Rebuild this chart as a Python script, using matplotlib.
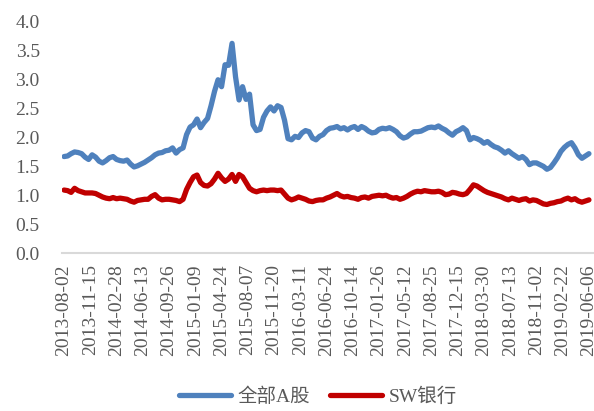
import matplotlib
matplotlib.use("Agg")
import matplotlib.pyplot as plt
import numpy as np

# tick labels (every 15th weekly observation)
tick_labels = [
    "2013-08-02", "2013-11-15", "2014-02-28", "2014-06-13", "2014-09-26",
    "2015-01-09", "2015-04-24", "2015-08-07", "2015-11-20", "2016-03-11",
    "2016-06-24", "2016-10-14", "2017-01-26", "2017-05-12", "2017-08-25",
    "2017-12-15", "2018-03-30", "2018-07-13", "2018-11-02", "2019-02-22",
    "2019-06-06",
]
series_names = ["全部A股", "SW银行"]

# values read every second week (observation index 0, 2, 4, ... 300)
all_a = [
    1.67, 1.68, 1.72, 1.75, 1.74, 1.72, 1.66, 1.62, 1.70, 1.66,
    1.59, 1.56, 1.60, 1.65, 1.67, 1.62, 1.60, 1.59, 1.61, 1.54,
    1.49, 1.51, 1.54, 1.57, 1.61, 1.65, 1.70, 1.73, 1.74, 1.77,
    1.78, 1.82, 1.73, 1.79, 1.82, 2.05, 2.18, 2.22, 2.32, 2.17,
    2.26, 2.33, 2.55, 2.80, 3.00, 2.88, 3.26, 3.25, 3.63, 3.05,
    2.65, 2.88, 2.66, 2.75, 2.22, 2.12, 2.14, 2.35, 2.46, 2.53,
    2.46, 2.55, 2.52, 2.30, 1.98, 1.96, 2.02, 2.00, 2.08, 2.12,
    2.10, 1.99, 1.96, 2.02, 2.05, 2.12, 2.16, 2.17, 2.19, 2.15,
    2.17, 2.13, 2.17, 2.19, 2.14, 2.19, 2.16, 2.11, 2.08, 2.09,
    2.14, 2.16, 2.15, 2.17, 2.14, 2.10, 2.03, 1.99, 2.01, 2.06,
    2.10, 2.10, 2.11, 2.14, 2.17, 2.18, 2.17, 2.20, 2.16, 2.13,
    2.08, 2.04, 2.10, 2.13, 2.17, 2.12, 1.96, 2.00, 1.98, 1.95,
    1.90, 1.93, 1.88, 1.84, 1.82, 1.78, 1.73, 1.77, 1.72, 1.68,
    1.64, 1.67, 1.62, 1.53, 1.56, 1.56, 1.53, 1.50, 1.45, 1.48,
    1.56, 1.65, 1.76, 1.83, 1.88, 1.91, 1.82, 1.70, 1.64, 1.68,
    1.72,
]
sw_bank = [
    1.09, 1.08, 1.05, 1.12, 1.08, 1.06, 1.04, 1.04, 1.04, 1.03,
    1.00, 0.97, 0.95, 0.94, 0.96, 0.94, 0.95, 0.94, 0.93, 0.90,
    0.88, 0.91, 0.92, 0.93, 0.93, 0.98, 1.01, 0.95, 0.92, 0.93,
    0.93, 0.92, 0.91, 0.89, 0.93, 1.10, 1.22, 1.32, 1.35, 1.22,
    1.17, 1.16, 1.20, 1.28, 1.38, 1.30, 1.24, 1.28, 1.36, 1.24,
    1.36, 1.32, 1.22, 1.12, 1.08, 1.06, 1.08, 1.09, 1.08, 1.09,
    1.09, 1.08, 1.09, 1.02, 0.95, 0.92, 0.94, 0.97, 0.95, 0.93,
    0.90, 0.89, 0.91, 0.92, 0.92, 0.95, 0.97, 1.00, 1.03, 0.99,
    0.97, 0.98, 0.96, 0.95, 0.93, 0.96, 0.97, 0.95, 0.98, 0.99,
    1.00, 0.99, 1.00, 0.97, 0.95, 0.96, 0.93, 0.95, 0.98, 1.02,
    1.05, 1.07, 1.06, 1.08, 1.07, 1.06, 1.06, 1.07, 1.05, 1.01,
    1.02, 1.05, 1.04, 1.02, 1.01, 1.03, 1.10, 1.18, 1.16, 1.12,
    1.08, 1.05, 1.03, 1.01, 0.99, 0.97, 0.94, 0.92, 0.95, 0.93,
    0.91, 0.93, 0.94, 0.90, 0.92, 0.91, 0.88, 0.85, 0.84, 0.86,
    0.87, 0.89, 0.90, 0.93, 0.95, 0.92, 0.94, 0.90, 0.88, 0.90,
    0.92,
]

x = np.arange(0, 2 * len(all_a), 2)
tick_pos = np.arange(len(tick_labels)) * 15

serif = ["Liberation Serif", "Noto Sans CJK SC"]
gray = "#595959"

fig = plt.figure(figsize=(5.94, 4.11), dpi=100)
ax = fig.add_axes([62 / 594, 158 / 411, 532 / 594, 231 / 411])

ax.plot(x, all_a, color="#4F81BD", lw=3.8, solid_capstyle="round", label=series_names[0])
ax.plot(x, sw_bank, color="#C00000", lw=3.8, solid_capstyle="round", label=series_names[1])

ax.set_xlim(-1.2, 302.9)
ax.set_ylim(0, 4)
ax.set_yticks(np.arange(0, 4.01, 0.5))
ax.set_yticklabels([f"{v:.1f}" for v in np.arange(0, 4.01, 0.5)], family=serif, fontsize=14, color=gray)
ax.set_xticks(tick_pos)
ax.set_xticklabels(tick_labels, rotation=90, family=serif, fontsize=14, color=gray)
ax.tick_params(axis="y", length=0, pad=16)
ax.tick_params(axis="x", length=0, pad=8)

for side in ["top", "right", "left"]:
    ax.spines[side].set_visible(False)
ax.spines["bottom"].set_color("#d9d9d9")
ax.spines["bottom"].set_linewidth(1.5)

fig.legend(
    loc="center",
    bbox_to_anchor=(318 / 594, 14 / 411),
    ncol=2,
    frameon=False,
    prop={"family": serif, "size": 14},
    handlelength=2.7,
    handletextpad=0.35,
    columnspacing=1.0,
    labelcolor=gray,
)

fig.savefig("out.png", dpi=100)
